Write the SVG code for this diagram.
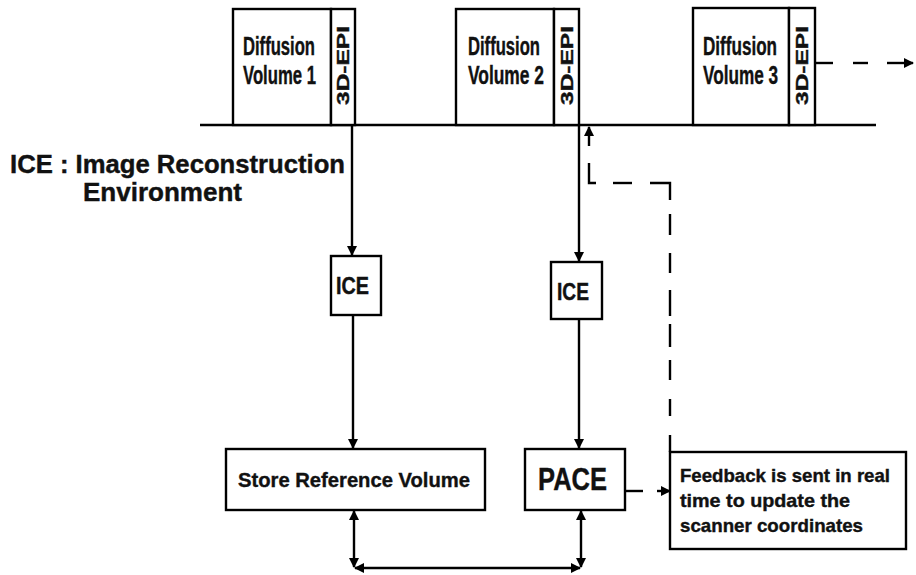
<svg xmlns="http://www.w3.org/2000/svg" width="916" height="575" viewBox="0 0 916 575">
<defs>
<marker id="ah" viewBox="0 0 10 10" refX="9" refY="5" markerWidth="11" markerHeight="10" markerUnits="userSpaceOnUse" orient="auto-start-reverse">
<path d="M0,0 L10,5 L0,10 z" fill="#000"/>
</marker>
</defs>
<style>
.box{fill:#fff;stroke:#000;stroke-width:2.4}
.ln{fill:none;stroke:#000;stroke-width:2.4}
.t{font-family:"Liberation Sans","DejaVu Sans",sans-serif;font-weight:bold;fill:#111;stroke:#111;stroke-width:0.4}
</style>
<rect width="916" height="575" fill="#fff"/>
<g id="connectors">
<line class="ln" x1="200" y1="125" x2="876" y2="125"/>
<line class="ln" x1="352" y1="126" x2="352" y2="255" marker-end="url(#ah)"/>
<line class="ln" x1="353" y1="315" x2="353" y2="448" marker-end="url(#ah)"/>
<line class="ln" x1="579" y1="126" x2="579" y2="261" marker-end="url(#ah)"/>
<line class="ln" x1="579" y1="319" x2="579" y2="448" marker-end="url(#ah)"/>
<line class="ln" x1="354" y1="511" x2="354" y2="567" marker-start="url(#ah)" marker-end="url(#ah)"/>
<line class="ln" x1="581" y1="511" x2="581" y2="567" marker-start="url(#ah)" marker-end="url(#ah)"/>
<line class="ln" x1="355" y1="568" x2="580" y2="568" marker-start="url(#ah)" marker-end="url(#ah)"/>
<line class="ln" x1="815" y1="63" x2="833" y2="63"/>
<line class="ln" x1="853" y1="63" x2="868" y2="63"/>
<line class="ln" x1="887" y1="63" x2="913" y2="63" marker-end="url(#ah)"/>
<line class="ln" x1="589" y1="146" x2="589" y2="127" marker-end="url(#ah)"/>
<polyline class="ln" points="589,163 589,183 596,183"/>
<line class="ln" x1="613" y1="183" x2="632" y2="183"/>
<polyline class="ln" points="650,183 670,183 670,200"/>
<line class="ln" x1="670" y1="214" x2="670" y2="235"/>
<line class="ln" x1="670" y1="253" x2="670" y2="273"/>
<line class="ln" x1="670" y1="290" x2="670" y2="316"/>
<line class="ln" x1="670" y1="324" x2="670" y2="347"/>
<line class="ln" x1="670" y1="360" x2="670" y2="380"/>
<line class="ln" x1="670" y1="399" x2="670" y2="416"/>
<line class="ln" x1="670" y1="435" x2="670" y2="452"/>
<line class="ln" x1="625" y1="491" x2="643" y2="491"/>
<line class="ln" x1="657" y1="491" x2="670" y2="491" marker-end="url(#ah)"/>
</g>
<g id="vol1">
<rect class="box" x="233" y="9" width="98" height="116"/>
<rect class="box" x="331" y="9" width="24" height="116"/>
<text class="t" x="243" y="55" font-size="25" textLength="72" lengthAdjust="spacingAndGlyphs">Diffusion</text>
<text class="t" x="243" y="84" font-size="25" textLength="73" lengthAdjust="spacingAndGlyphs">Volume 1</text>
<text class="t" transform="translate(349,105) rotate(-90)" font-size="17" textLength="79" lengthAdjust="spacingAndGlyphs">3D-EPI</text>
</g>
<g id="vol2">
<rect class="box" x="456" y="9" width="98" height="116"/>
<rect class="box" x="554" y="9" width="25" height="116"/>
<text class="t" x="468" y="55" font-size="25" textLength="72" lengthAdjust="spacingAndGlyphs">Diffusion</text>
<text class="t" x="468" y="84" font-size="25" textLength="76" lengthAdjust="spacingAndGlyphs">Volume 2</text>
<text class="t" transform="translate(573,105) rotate(-90)" font-size="17" textLength="79" lengthAdjust="spacingAndGlyphs">3D-EPI</text>
</g>
<g id="vol3">
<rect class="box" x="693" y="8" width="96" height="117"/>
<rect class="box" x="789" y="8" width="26" height="117"/>
<text class="t" x="703" y="55" font-size="25" textLength="74" lengthAdjust="spacingAndGlyphs">Diffusion</text>
<text class="t" x="703" y="84" font-size="25" textLength="75" lengthAdjust="spacingAndGlyphs">Volume 3</text>
<text class="t" transform="translate(808,105) rotate(-90)" font-size="17" textLength="79" lengthAdjust="spacingAndGlyphs">3D-EPI</text>
</g>
<g id="legend">
<text class="t" x="10" y="173" font-size="25" textLength="335" lengthAdjust="spacingAndGlyphs">ICE : Image Reconstruction</text>
<text class="t" x="83" y="201" font-size="25" textLength="159" lengthAdjust="spacingAndGlyphs">Environment</text>
</g>
<g id="ice1">
<rect class="box" x="331" y="256" width="50" height="59"/>
<text class="t" x="336" y="294" font-size="23" textLength="33" lengthAdjust="spacingAndGlyphs">ICE</text>
</g>
<g id="ice2">
<rect class="box" x="551" y="262" width="51" height="57"/>
<text class="t" x="557" y="300" font-size="23" textLength="32" lengthAdjust="spacingAndGlyphs">ICE</text>
</g>
<g id="store">
<rect class="box" x="226" y="449" width="259" height="61"/>
<text class="t" x="238" y="487" font-size="21" textLength="232" lengthAdjust="spacingAndGlyphs">Store Reference Volume</text>
</g>
<g id="pace">
<rect class="box" x="525" y="449" width="100" height="61"/>
<text class="t" x="538" y="490" font-size="31" textLength="69" lengthAdjust="spacingAndGlyphs">PACE</text>
</g>
<g id="feedback">
<rect class="box" x="670" y="452" width="236" height="97"/>
<text class="t" x="680" y="482" font-size="19" textLength="210" lengthAdjust="spacingAndGlyphs">Feedback is sent in real</text>
<text class="t" x="680" y="507" font-size="19" textLength="170" lengthAdjust="spacingAndGlyphs">time to update the</text>
<text class="t" x="680" y="532" font-size="19" textLength="183" lengthAdjust="spacingAndGlyphs">scanner coordinates</text>
</g>
</svg>
